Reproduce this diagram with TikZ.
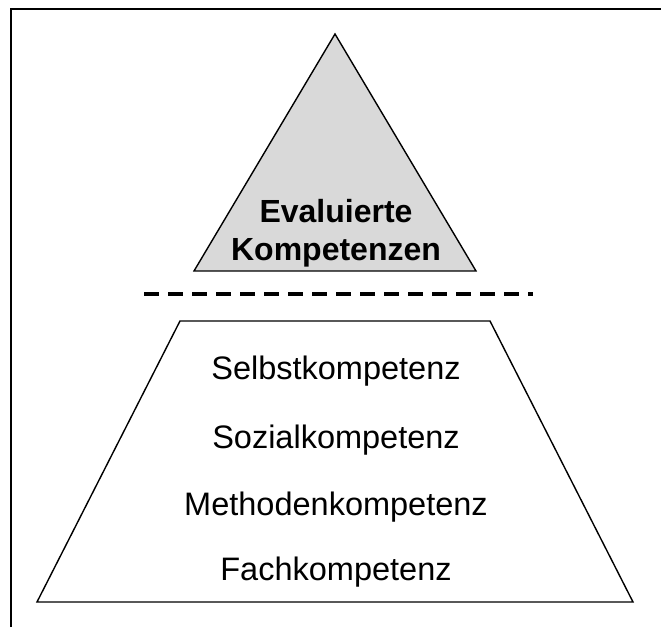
\documentclass[tikz,border=0pt]{standalone}
\usepackage{fontspec}
\setmainfont{Liberation Sans}
\usepackage{tikz}
\usetikzlibrary{positioning}

\begin{document}
\begin{tikzpicture}[
  x=1pt, y=1pt,
  outline/.style={draw, line width=1.4pt, line join=miter},
  level/.style={anchor=base, font=\fontsize{32.5}{38}\selectfont},
  top/.style={align=center, font=\fontsize{32}{38}\selectfont\bfseries},
  divider/.style={line width=4pt, dash pattern=on 15pt off 9pt}
]
\useasboundingbox (0,0) rectangle (661,627);
\draw[line width=1.4pt] (11,0) -- (11,618) -- (661,618);

\draw[outline, fill=black!15] (335,593) -- (476,356) -- (194,356) -- cycle;
\node[top] (eval) at (336,394) {Evaluierte\\Kompetenzen};

\coordinate (dl) at (144,333);
\coordinate (dr) at (533,333);
\draw[divider] (dl) -- (dr);

\draw[outline, fill=white] (180,306) -- (490,306) -- (633,25) -- (37,25) -- cycle;
\node[level] (selbst) at (336,247) {Selbstkompetenz};
\node[level] (sozial) at (336,179) {Sozialkompetenz};
\node[level] (methode) at (336,112) {Methodenkompetenz};
\node[level] (fach) at (336,47) {Fachkompetenz};
\end{tikzpicture}
\end{document}
